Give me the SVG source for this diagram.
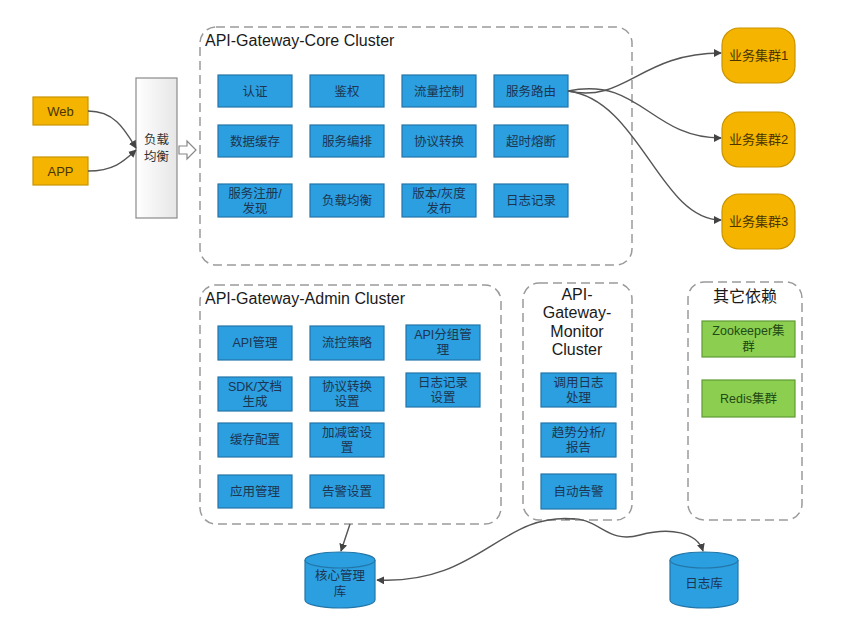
<svg xmlns="http://www.w3.org/2000/svg" width="842" height="631" viewBox="0 0 842 631">
<style>
text{font-family:"Liberation Sans","Noto Sans CJK SC",sans-serif;}
.cl{fill:none;stroke:#9a9a9a;stroke-width:1.5;stroke-dasharray:9,5;}
.title{font-size:16px;fill:#1a1a1a;}
.b{fill:#2b9fe0;stroke:#2476a8;stroke-width:1.2;}
.bt{font-size:12.5px;fill:#1d3550;text-anchor:middle;}
.y{fill:#f5b400;stroke:#c99400;stroke-width:1.2;}
.yt{font-size:13px;fill:#4a3400;text-anchor:middle;}
.g{fill:#8ccf50;stroke:#5f9a34;stroke-width:1.2;}
.gt{font-size:12.5px;fill:#234a14;text-anchor:middle;}
.c{fill:none;stroke:#555;stroke-width:1.4;}
</style>
<defs>
<marker id="ah" viewBox="0 0 10 10" refX="9" refY="5" markerWidth="8" markerHeight="8" markerUnits="userSpaceOnUse" orient="auto">
<path d="M0,0 L10,5 L0,10 z" fill="#444"/>
</marker>
<linearGradient id="lb" x1="0" y1="0" x2="1" y2="0">
<stop offset="0" stop-color="#ffffff"/>
<stop offset="1" stop-color="#e6e6e6"/>
</linearGradient>
</defs>
<rect width="842" height="631" fill="#ffffff"/>

<!-- clients -->
<g id="web"><rect class="y" x="33" y="97" width="55" height="28"/><text class="yt" x="60.5" y="116">Web</text></g>
<g id="app"><rect class="y" x="33" y="157" width="55" height="28"/><text class="yt" x="60.5" y="176">APP</text></g>
<g id="lb"><rect x="136" y="78" width="41" height="140" fill="url(#lb)" stroke="#8a8a8a" stroke-width="1.2"/><text class="bt" x="156.5" y="144" style="fill:#333">负载</text><text class="bt" x="156.5" y="161" style="fill:#333">均衡</text></g>
<g id="hollow-arrow"><polygon points="179,146 187,146 187,141 196,150 187,159 187,154 179,154" fill="#fff" stroke="#888" stroke-width="1.2"/></g>

<!-- core cluster -->
<g id="core-cluster">
<rect class="cl" x="200" y="27" width="432" height="238" rx="16"/>
<text class="title" x="205" y="46">API-Gateway-Core Cluster</text>
</g>
<g id="core-renzheng"><rect class="b" x="218" y="75" width="74" height="32"/><text class="bt" x="255" y="95.5">认证</text></g>
<g id="core-jianquan"><rect class="b" x="310" y="75" width="74" height="32"/><text class="bt" x="347" y="95.5">鉴权</text></g>
<g id="core-liuliang"><rect class="b" x="402" y="75" width="74" height="32"/><text class="bt" x="439" y="95.5">流量控制</text></g>
<g id="core-luyou"><rect class="b" x="494" y="75" width="74" height="32"/><text class="bt" x="531" y="95.5">服务路由</text></g>
<g id="core-huancun"><rect class="b" x="218" y="125" width="74" height="32"/><text class="bt" x="255" y="145.5">数据缓存</text></g>
<g id="core-bianpai"><rect class="b" x="310" y="125" width="74" height="32"/><text class="bt" x="347" y="145.5">服务编排</text></g>
<g id="core-xieyi"><rect class="b" x="402" y="125" width="74" height="32"/><text class="bt" x="439" y="145.5">协议转换</text></g>
<g id="core-chaoshi"><rect class="b" x="494" y="125" width="74" height="32"/><text class="bt" x="531" y="145.5">超时熔断</text></g>
<g id="core-zhuce"><rect class="b" x="218" y="184" width="74" height="33"/><text class="bt" x="255" y="198">服务注册/</text><text class="bt" x="255" y="213">发现</text></g>
<g id="core-fuzai"><rect class="b" x="310" y="184" width="74" height="33"/><text class="bt" x="347" y="205">负载均衡</text></g>
<g id="core-banben"><rect class="b" x="402" y="184" width="74" height="33"/><text class="bt" x="439" y="198">版本/灰度</text><text class="bt" x="439" y="213">发布</text></g>
<g id="core-rizhi"><rect class="b" x="494" y="184" width="74" height="33"/><text class="bt" x="531" y="205">日志记录</text></g>

<!-- business clusters -->
<g id="biz1"><rect class="y" x="722" y="28" width="73" height="55" rx="17"/><text class="yt" x="758.5" y="60">业务集群1</text></g>
<g id="biz2"><rect class="y" x="722" y="112" width="73" height="55" rx="17"/><text class="yt" x="758.5" y="144">业务集群2</text></g>
<g id="biz3"><rect class="y" x="722" y="194" width="73" height="55" rx="17"/><text class="yt" x="758.5" y="226">业务集群3</text></g>

<!-- admin cluster -->
<g id="admin-cluster">
<rect class="cl" x="200" y="285" width="301" height="239" rx="16"/>
<text class="title" x="205" y="304">API-Gateway-Admin Cluster</text>
</g>
<g id="adm-api"><rect class="b" x="218" y="326" width="74" height="34"/><text class="bt" x="255" y="347">API管理</text></g>
<g id="adm-liukong"><rect class="b" x="310" y="326" width="74" height="34"/><text class="bt" x="347" y="347">流控策略</text></g>
<g id="adm-fenzu"><rect class="b" x="406" y="325" width="74" height="35"/><text class="bt" x="443" y="339">API分组管</text><text class="bt" x="443" y="354">理</text></g>
<g id="adm-sdk"><rect class="b" x="218" y="377" width="74" height="34"/><text class="bt" x="255" y="391">SDK/文档</text><text class="bt" x="255" y="406">生成</text></g>
<g id="adm-xieyi"><rect class="b" x="310" y="377" width="74" height="34"/><text class="bt" x="347" y="391">协议转换</text><text class="bt" x="347" y="406">设置</text></g>
<g id="adm-rizhi"><rect class="b" x="406" y="373" width="74" height="34"/><text class="bt" x="443" y="387">日志记录</text><text class="bt" x="443" y="402">设置</text></g>
<g id="adm-huancun"><rect class="b" x="218" y="423" width="74" height="34"/><text class="bt" x="255" y="444">缓存配置</text></g>
<g id="adm-jiami"><rect class="b" x="310" y="423" width="74" height="34"/><text class="bt" x="347" y="437">加减密设</text><text class="bt" x="347" y="452">置</text></g>
<g id="adm-yingyong"><rect class="b" x="218" y="475" width="74" height="33"/><text class="bt" x="255" y="496">应用管理</text></g>
<g id="adm-gaojing"><rect class="b" x="310" y="475" width="74" height="33"/><text class="bt" x="347" y="496">告警设置</text></g>

<!-- monitor cluster -->
<g id="monitor-cluster">
<rect class="cl" x="523" y="283" width="109" height="237" rx="16"/>
<text class="title" x="577" y="300" text-anchor="middle">API-</text>
<text class="title" x="577" y="318" text-anchor="middle">Gateway-</text>
<text class="title" x="577" y="337" text-anchor="middle">Monitor</text>
<text class="title" x="577" y="355" text-anchor="middle">Cluster</text>
</g>
<g id="mon-diaoyong"><rect class="b" x="541" y="373" width="75" height="34"/><text class="bt" x="578.5" y="387">调用日志</text><text class="bt" x="578.5" y="402">处理</text></g>
<g id="mon-qushi"><rect class="b" x="541" y="423" width="75" height="34"/><text class="bt" x="578.5" y="437">趋势分析/</text><text class="bt" x="578.5" y="452">报告</text></g>
<g id="mon-gaojing"><rect class="b" x="541" y="474" width="75" height="35"/><text class="bt" x="578.5" y="496">自动告警</text></g>

<!-- other deps -->
<g id="other-deps">
<rect class="cl" x="688" y="282" width="114" height="238" rx="16"/>
<text class="title" x="745" y="302" text-anchor="middle">其它依赖</text>
</g>
<g id="zookeeper"><rect class="g" x="702" y="321" width="93" height="36"/><text class="gt" x="748.5" y="335">Zookeeper集</text><text class="gt" x="748.5" y="351">群</text></g>
<g id="redis"><rect class="g" x="702" y="380" width="93" height="37"/><text class="gt" x="748.5" y="403">Redis集群</text></g>

<!-- databases -->
<g id="db-core">
<path d="M305,560 v40 a35,8 0 0 0 70,0 v-40" fill="#2b9fe0" stroke="#2476a8" stroke-width="1.2"/>
<ellipse cx="340" cy="560" rx="35" ry="8" fill="#2b9fe0" stroke="#2476a8" stroke-width="1.2"/>
<text class="bt" x="340" y="580">核心管理</text><text class="bt" x="340" y="596">库</text>
</g>
<g id="db-log">
<path d="M670,560 v40 a34,8 0 0 0 68,0 v-40" fill="#2b9fe0" stroke="#2476a8" stroke-width="1.2"/>
<ellipse cx="704" cy="560" rx="34" ry="8" fill="#2b9fe0" stroke="#2476a8" stroke-width="1.2"/>
<text class="bt" x="704" y="588">日志库</text>
</g>

<!-- connectors -->
<g id="connectors">
<path class="c" d="M88,111 C115,111 125,130 136,148" marker-end="url(#ah)"/>
<path class="c" d="M88,171 C115,171 125,160 136,150" marker-end="url(#ah)"/>
<path class="c" d="M568,91 C625,104 640,53 721,53" marker-end="url(#ah)"/>
<path class="c" d="M568,91 C640,76 650,138 721,138" marker-end="url(#ah)"/>
<path class="c" d="M568,91 C640,100 660,220 721,220" marker-end="url(#ah)"/>
<path class="c" d="M350,524 L341,551" marker-end="url(#ah)"/>
<path class="c" d="M575,519 C500,512 480,585 377,580" marker-end="url(#ah)"/>
<path class="c" d="M565,519 C600,515 605,545 640,535 C670,527 697,532 703,551" marker-end="url(#ah)"/>
</g>
</svg>
